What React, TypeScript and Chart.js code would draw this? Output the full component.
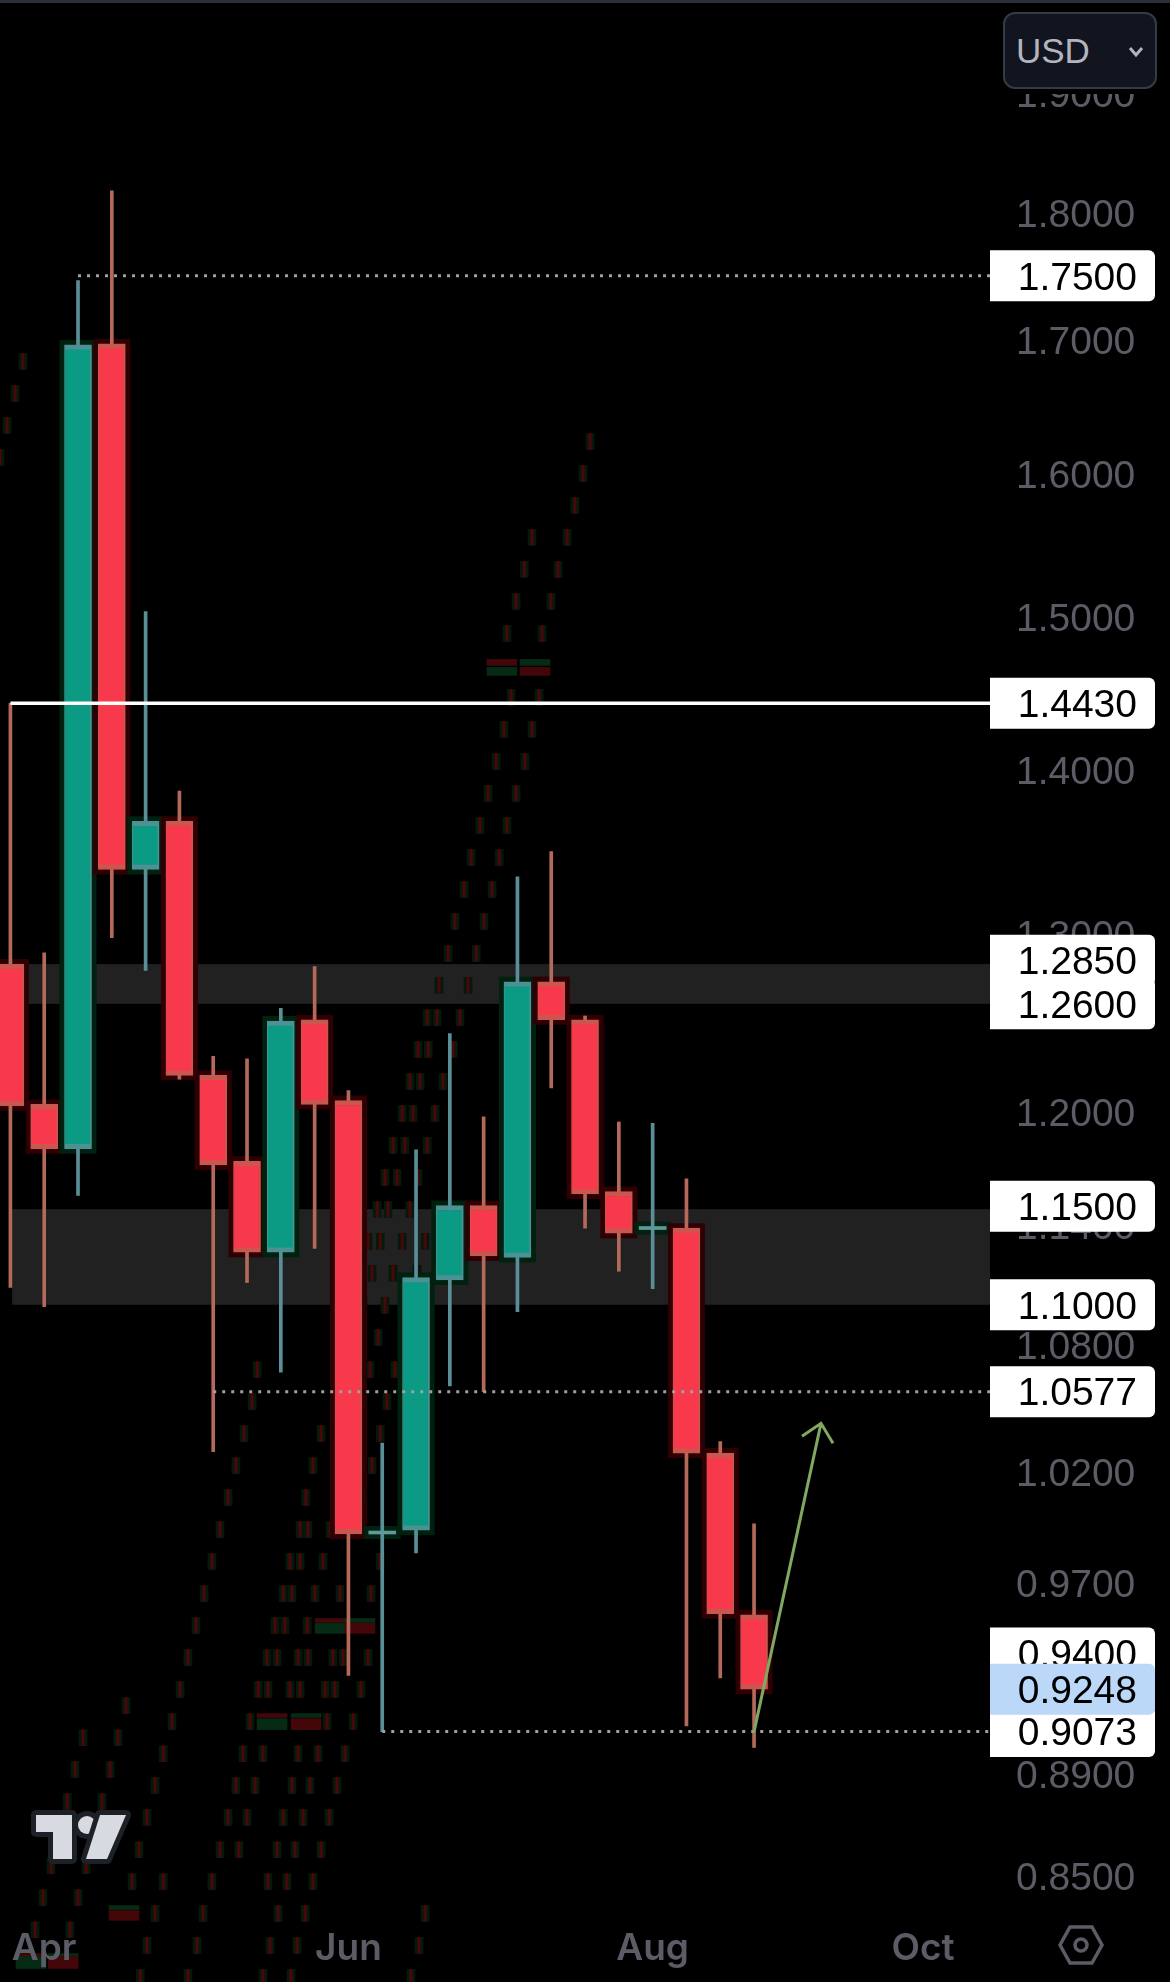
import { useEffect, useRef } from 'react';
import { Chart, registerables } from 'chart.js';

Chart.register(...registerables);

const opens = [1.2828, 1.2041, 1.1803, 1.6972, 1.3388, 1.3682, 1.22, 1.1736, 1.1264, 1.251, 1.2062, 0.9919, 0.9936, 1.1124, 1.1504, 1.1238, 1.2726, 1.251, 1.1577, 1.138, 1.1387, 1.0288, 0.9564];
const closes = [1.2034, 1.1803, 1.6963, 1.3388, 1.3682, 1.22, 1.1716, 1.1264, 1.2503, 1.2041, 0.9919, 0.9919, 1.1136, 1.1504, 1.1245, 1.2726, 1.251, 1.1564, 1.1361, 1.138, 1.0288, 0.9569, 0.9248];
const highs = [1.443, 1.2894, 1.7463, 1.8184, 1.504, 1.387, 1.2305, 1.2291, 1.2574, 1.2813, 1.2117, 1.0335, 1.1797, 1.2432, 1.1973, 1.3343, 1.3496, 1.2531, 1.1946, 1.1939, 1.1643, 1.0341, 0.9965];
const lows = [1.1086, 1.0991, 1.1557, 1.2982, 1.2791, 1.2179, 1.0294, 1.1111, 1.067, 1.1283, 0.9306, 0.9073, 0.9835, 1.0604, 1.0577, 1.0966, 1.2131, 1.1387, 1.1168, 1.108, 0.9096, 0.9295, 0.9008];
const dojis = [11, 19];

const tickValues = [1.9, 1.8, 1.7, 1.6, 1.5, 1.4, 1.3, 1.2, 1.14, 1.08, 1.02, 0.97, 0.89, 0.85];
const monthIndexes = [1, 10, 19, 27];
const monthLabels = ['Apr', 'Jun', 'Aug', 'Oct'];

const priceLabels = [1.75, 1.443, 1.285, 1.26, 1.15, 1.1, 1.0577, 0.94, 0.9073];
const dottedLevels = [
  { price: 1.75, from: 2 },
  { price: 1.0577, from: 6 },
  { price: 0.9073, from: 11 },
];
const zones = [[1.26, 1.2828], [1.1, 1.1485]];

// the faint screen-photo ghost ticks, one row per price
const ghostPrices = [1.6837, 1.6596, 1.6358, 1.6123, 1.624, 1.6007, 1.5778, 1.5552, 1.5329, 1.5109, 1.4892, 1.4468, 1.4261, 1.4056, 1.3855, 1.3656, 1.346, 1.3267, 1.3077, 1.2889, 1.2705, 1.2522, 1.2343, 1.2166, 1.1992, 1.182, 1.165, 1.1483, 1.1319, 1.1157, 1.0997, 1.0839, 1.0683, 1.053, 1.0379, 1.023, 1.0084, 0.9939, 0.9797, 0.9656, 0.9518, 0.9381, 0.9247, 0.918, 0.9114, 0.9048, 0.8983, 0.8919, 0.8855, 0.8791, 0.8728, 0.8602, 0.854, 0.8479, 0.8418, 0.8358, 0.8297, 0.8238, 0.812];
const ghostXs = [
  [0.37], [0.14], [-0.1], [-0.31],
  [17.15], [16.94], [16.7], [16.47, 15.43], [16.2, 15.2], [15.99, 14.96], [15.73, 14.69],
  [14.81, 15.64], [14.6, 15.43], [14.37, 15.22], [14.13, 14.96], [13.89, 14.69], [13.63, 14.46], [13.42, 14.25], [13.15, 14.01], [12.95, 13.78], [12.68, 13.54],
  [12.33, 12.62, 13.3], [12.06, 12.36, 13.1], [11.82, 12.12, 12.8], [11.59, 11.91, 12.56], [11.32, 11.67, 12.33], [11.08, 11.44, 12.06], [10.85, 11.17, 11.82],
  [10.58, 10.94, 11.59, 12.27], [10.34, 10.7, 11.32, 12.03], [10.43, 11.08], [10.88, 11.62], [7.3, 10.64, 11.38], [7.15, 10.43, 11.14], [6.91, 9.19, 10.94], [6.67, 8.95, 10.7], [6.44, 8.74, 10.43],
  [6.2, 8.57, 8.8, 9.46], [5.96, 8.27, 8.57, 9.25, 10.94], [5.73, 8.07, 8.33, 9.01, 9.75, 10.67], [5.49, 7.83, 8.12, 8.78],
  [5.25, 7.59, 7.89, 8.51, 8.8, 9.54, 9.84, 10.58], [5.02, 7.33, 7.62, 8.27, 8.57, 9.31, 9.6, 10.37], [3.42],
  [4.78, 7.09, 9.37, 10.14], [3.18, 2.15], [4.52, 6.88, 7.47, 8.51, 9.1, 9.9], [2.95, 1.91], [4.28, 6.67, 7.24, 8.33, 8.86, 9.66], [2.71, 1.68],
  [4.04, 6.44, 7.0, 8.07, 8.66, 9.43], [3.8, 6.2, 6.76, 7.89, 8.42, 9.19], [2.24, 1.2], [3.6, 4.52, 5.96, 7.62, 8.18, 8.95], [2.0, 0.96],
  [4.28, 5.7, 7.92, 8.72, 12.27], [1.76, 0.73], [4.04, 5.52, 7.68, 8.48, 12.09], [3.84, 5.25, 7.47, 8.3, 11.85],
];
const ghostBands = [
  { x: 14.54, upper: [1.4679, 1.4719], lower: [1.4613, 1.4666], redOnTop: true },
  { x: 15.52, upper: [1.4679, 1.4719], lower: [1.4613, 1.4666], redOnTop: false },
  { x: 9.46, upper: [0.9531, 0.9548], lower: [0.9484, 0.9527], redOnTop: true },
  { x: 10.34, upper: [0.9531, 0.9548], lower: [0.9484, 0.9527], redOnTop: false },
  { x: 7.74, upper: [0.9131, 0.9147], lower: [0.9081, 0.9126], redOnTop: true },
  { x: 8.75, upper: [0.9131, 0.9147], lower: [0.9081, 0.9126], redOnTop: false },
  { x: 3.36, upper: [0.8373, 0.8388], lower: [0.8332, 0.8369], redOnTop: false },
  { x: 0.61, upper: [0.8197, 0.8208], lower: [0.8153, 0.8197], redOnTop: true },
  { x: 1.56, upper: [0.8197, 0.8208], lower: [0.8153, 0.8197], redOnTop: false },
];

const UP = '#0b9a83';
const DOWN = '#f7394b';
const UP_EDGE = '#4d9194';
const DOWN_EDGE = '#c9574f';
const UP_WICK = '#5a8f98';
const DOWN_WICK = '#b5695b';
const UP_HALO = '#00210f';
const DOWN_HALO = '#2e0003';
const GHOST_RED = '#4a0609';
const GHOST_GREEN = '#03190a';
const BAND_RED = '#430709';
const BAND_GREEN = '#052b14';
const TEXT_GREY = '#5c5c67';
const PRICE_FONT = '"Liberation Sans", sans-serif';

const overlayPlugin = {
  id: 'overlay',
  beforeDatasetsDraw(chart: any) {
    const { ctx, scales: { x, y }, chartArea } = chart;
    ctx.save();
    ctx.fillStyle = '#212121';
    zones.forEach(([lo, hi]) => {
      const left = x.getPixelForValue(0.05);
      ctx.fillRect(left, y.getPixelForValue(hi), chartArea.right - left, y.getPixelForValue(lo) - y.getPixelForValue(hi));
    });
    ctx.restore();
  },
  afterDraw(chart: any) {
    const { ctx, scales: { x, y }, chartArea } = chart;
    ctx.save();

    // level lines
    ctx.strokeStyle = '#ffffff';
    ctx.lineWidth = 3.5;
    ctx.beginPath();
    ctx.moveTo(x.getPixelForValue(0), y.getPixelForValue(1.443));
    ctx.lineTo(chartArea.right, y.getPixelForValue(1.443));
    ctx.stroke();
    ctx.strokeStyle = '#a0a0a0';
    ctx.lineWidth = 3;
    ctx.setLineDash([3, 6]);
    dottedLevels.forEach(l => {
      ctx.beginPath();
      ctx.moveTo(x.getPixelForValue(l.from), y.getPixelForValue(l.price));
      ctx.lineTo(chartArea.right, y.getPixelForValue(l.price));
      ctx.stroke();
    });
    ctx.setLineDash([]);

    // arrow
    const sx = x.getPixelForValue(22), sy = y.getPixelForValue(0.9073);
    const ex = x.getPixelForValue(23.98), ey = y.getPixelForValue(1.0427);
    ctx.strokeStyle = '#7fa860';
    ctx.lineWidth = 3;
    ctx.beginPath();
    ctx.moveTo(sx, sy);
    ctx.lineTo(ex, ey);
    ctx.moveTo(ex - 19, ey + 13);
    ctx.lineTo(ex, ey);
    ctx.lineTo(ex + 12, ey + 20);
    ctx.stroke();

    // price labels
    const h = 51;
    ctx.font = `39px ${PRICE_FONT}`;
    ctx.textBaseline = 'middle';
    ctx.textAlign = 'right';
    const tag = (price: number, bg: string) => {
      const py = y.getPixelForValue(price);
      ctx.fillStyle = bg;
      ctx.beginPath();
      ctx.roundRect(chartArea.right, py - h / 2, 165, h, [0, 6, 6, 0]);
      ctx.fill();
      ctx.fillStyle = '#000000';
      ctx.fillText(price.toFixed(4), 1137, py + 3);
    };
    priceLabels.forEach(p => tag(p, '#ffffff'));
    tag(0.9248, '#bbd8f9');
    ctx.restore();
  },
};

export default function App() {
  const canvasRef = useRef<HTMLCanvasElement>(null);

  useEffect(() => {
    document.body.style.margin = '0';
    document.body.style.background = '#000';
    if (!canvasRef.current) return;
    const ids = opens.map((_, i) => i);
    const isUp = (i: number) => closes[i] > opens[i] || dojis.includes(i);
    const bodies = ids.map(i => ({ x: i, y: [opens[i], closes[i]] }));
    const ghosts = ghostPrices.flatMap((p, r) => ghostXs[r].map(x => ({ x, y: [p * 0.9964, p * 1.0036] })));
    const bandData = ghostBands.flatMap(b => [
      { x: b.x, y: b.upper, red: b.redOnTop },
      { x: b.x, y: b.lower, red: !b.redOnTop },
    ]);
    const chart = new Chart(canvasRef.current, {
      type: 'bar',
      data: {
        datasets: [
          {
            order: 1,
            data: bodies,
            backgroundColor: ids.map(i => (dojis.includes(i) ? '#5f9a9a' : isUp(i) ? UP : DOWN)),
            borderColor: ids.map(i => (isUp(i) ? UP_EDGE : DOWN_EDGE)),
            borderWidth: (c: any) => (dojis.includes(c.dataIndex) ? 0 : { top: 5, bottom: 5, left: 1, right: 2 }),
            borderSkipped: false,
            barThickness: 27,
            minBarLength: 3,
            grouped: false,
          },
          {
            order: 2,
            data: ids.map(i => ({ x: i, y: [lows[i], highs[i]] })),
            backgroundColor: ids.map(i => (isUp(i) ? UP_WICK : DOWN_WICK)),
            barThickness: 3,
            grouped: false,
          },
          {
            order: 3,
            data: bodies,
            backgroundColor: ids.map(i => (isUp(i) ? UP_HALO : DOWN_HALO)),
            barThickness: 27,
            minBarLength: 3,
            inflateAmount: 5,
            grouped: false,
          },
          {
            order: 4,
            data: ghosts,
            backgroundColor: GHOST_RED,
            barThickness: 2.5,
            clip: false,
            grouped: false,
          },
          {
            order: 5,
            data: ghosts,
            backgroundColor: GHOST_GREEN,
            barThickness: 8,
            clip: false,
            grouped: false,
          },
          {
            order: 6,
            data: bandData,
            backgroundColor: bandData.map(b => (b.red ? BAND_RED : BAND_GREEN)),
            barThickness: 30,
            clip: false,
            grouped: false,
          },
        ] as any,
      },
      options: {
        responsive: false,
        animation: false,
        devicePixelRatio: 1,
        layout: { padding: 0 },
        plugins: { legend: { display: false }, tooltip: { enabled: false } },
        scales: {
          x: {
            type: 'linear',
            position: 'bottom',
            offset: false,
            min: -0.308,
            max: 28.98,
            grid: { display: false, drawTicks: false, offset: false },
            border: { display: false },
            afterBuildTicks: (scale: any) => {
              scale.ticks = monthIndexes.map(value => ({ value }));
            },
            afterFit: (scale: any) => {
              scale.height = 77;
              scale.paddingLeft = 0;
              scale.paddingRight = 0;
            },
            ticks: {
              z: 1,
              autoSkip: false,
              maxRotation: 0,
              padding: 22,
              color: TEXT_GREY,
              font: { family: 'Inter, sans-serif', size: 37, weight: 600 },
              callback: (v: any) => monthLabels[monthIndexes.indexOf(v)],
            },
          },
          y: {
            type: 'logarithmic',
            position: 'right',
            min: 0.839,
            max: 1.982,
            grid: { display: false, drawTicks: false },
            border: { display: false },
            afterBuildTicks: (scale: any) => {
              scale.ticks = tickValues.map(value => ({ value }));
            },
            afterFit: (scale: any) => {
              scale.width = 180;
              scale.paddingTop = 0;
              scale.paddingBottom = 0;
            },
            ticks: {
              autoSkip: false,
              padding: 26,
              labelOffset: 3,
              color: TEXT_GREY,
              font: { family: PRICE_FONT, size: 39 },
              callback: (v: any) => Number(v).toFixed(4),
            },
          },
        },
      } as any,
      plugins: [overlayPlugin],
    });
    return () => chart.destroy();
  }, []);

  return (
    <div style={{ position: 'relative', width: 1170, height: 1982, background: '#000', overflow: 'hidden' }}>
      <canvas ref={canvasRef} width={1170} height={1982} style={{ display: 'block' }} />
      <div style={{ position: 'absolute', left: 0, top: 0, width: 1170, height: 3, background: '#2a2d3a' }} />
      <div style={{ position: 'absolute', left: 990, top: 3, width: 180, height: 91, background: '#000' }} />
      <div
        style={{
          position: 'absolute', left: 1003, top: 12, width: 150, height: 73,
          background: '#12141f', border: '2px solid #363a45', borderRadius: 12,
          color: '#b2b5be', font: `35px ${PRICE_FONT}`, lineHeight: '73px',
        }}
      >
        <span style={{ marginLeft: 11 }}>USD</span>
        <svg width="16" height="12" viewBox="0 0 16 12" style={{ position: 'absolute', left: 123, top: 32 }}>
          <path d="M2 2 L8 9 L14 2" fill="none" stroke="#b2b5be" strokeWidth="3" />
        </svg>
      </div>
      <svg width="108" height="64" viewBox="0 0 108 64" style={{ position: 'absolute', left: 28, top: 1805 }}>
        <g stroke="#1e2027" strokeWidth="10" strokeLinejoin="round" paintOrder="stroke" fill="#d8dae2">
          <path d="M8 10 H44 V54 H25 V27 H8 Z" />
          <circle cx="59" cy="20" r="9" />
          <path d="M72 10 H98 L79 54 H58 Z" />
        </g>
      </svg>
      <svg width="48" height="52" viewBox="0 0 48 52" style={{ position: 'absolute', left: 1057, top: 1919 }}>
        <path d="M13 8 H35 L45 26 L35 44 H13 L3 26 Z" fill="none" stroke={TEXT_GREY} strokeWidth="3.5" />
        <circle cx="24" cy="26" r="6" fill="none" stroke={TEXT_GREY} strokeWidth="3.5" />
      </svg>
    </div>
  );
}
